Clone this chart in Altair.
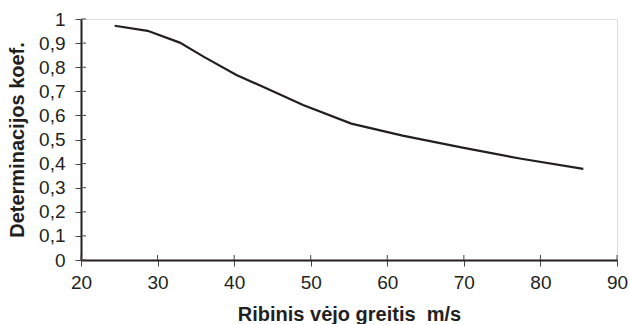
import altair as alt
import pandas as pd

# Limit wind speed (m/s) vs. coefficient of determination
speed = [24.4, 28.7, 32.9, 36.0, 40.3, 44.7, 49.0, 55.3, 62.0, 70.0, 77.5, 85.6]
coef = [0.972, 0.951, 0.902, 0.844, 0.768, 0.705, 0.643, 0.566, 0.516, 0.465, 0.420, 0.378]

x_ticks = [20, 30, 40, 50, 60, 70, 80, 90]
y_ticks = [0, 0.1, 0.2, 0.3, 0.4, 0.5, 0.6, 0.7, 0.8, 0.9, 1]

W, H = 536, 241
FONT = "Liberation Sans"
INK = "#231f20"

df = pd.DataFrame({"speed": speed, "coef": coef})
xt = pd.DataFrame({"v": x_ticks})
yt = pd.DataFrame({"v": y_ticks})

xscale = alt.Scale(domain=[20, 90], nice=False, zero=False)
yscale = alt.Scale(domain=[0, 1], nice=False)

x_axis = alt.Axis(title="Ribinis vėjo greitis\u00a0 m/s", values=x_ticks,
                  format="d", labelFontSize=19, labelFont=FONT,
                  labelColor=INK, labelPadding=7, labelOverlap=False,
                  labelFlush=False,
                  titleFont=FONT, titleFontSize=20, titleFontWeight="bold",
                  titleColor=INK, titlePadding=12,
                  tickSize=6, tickColor="#444", tickWidth=1,
                  domainColor=INK, domainWidth=2, grid=False)
y_axis = alt.Axis(title="Determinacijos koef.", values=y_ticks,
                  labelExpr="replace(format(datum.value, '~g'), '.', ',')",
                  labelFontSize=19, labelFont=FONT, labelColor=INK,
                  labelPadding=10, labelOverlap=False, labelFlush=False,
                  titleFont=FONT, titleFontSize=20, titleFontWeight="bold",
                  titleColor=INK, titlePadding=11,
                  tickSize=6, tickColor="#444", tickWidth=1,
                  domainColor=INK, domainWidth=2, grid=False)

line = alt.Chart(df).mark_line(color=INK, strokeWidth=2.2).encode(
    x=alt.X("speed:Q", scale=xscale, axis=x_axis),
    y=alt.Y("coef:Q", scale=yscale, axis=y_axis),
)

# inner halves of the crossing tick marks
xin = alt.Chart(xt).mark_rule(color="#444", strokeWidth=1).encode(
    x=alt.X("v:Q", scale=xscale, axis=x_axis),
    y=alt.value(H - 5), y2=alt.value(H),
)
yin = alt.Chart(yt).mark_rule(color="#444", strokeWidth=1).encode(
    y=alt.Y("v:Q", scale=yscale, axis=y_axis),
    x=alt.value(0), x2=alt.value(5),
)

chart = alt.layer(line, xin, yin).properties(
    width=W, height=H,
    autosize=alt.AutoSizeParams(type="none"),
    padding={"left": 81, "top": 19, "right": 12, "bottom": 64},
).configure_view(stroke=INK, strokeWidth=2).configure(background="white")

chart.save("out.html", embed_options={"renderer": "svg", "actions": False})
